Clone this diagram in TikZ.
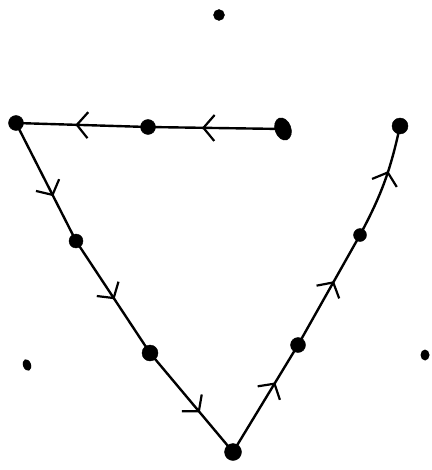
\documentclass[tikz,border=0pt]{standalone}
\usetikzlibrary{arrows.meta,decorations.markings,shapes.geometric}
\tikzset{
  dot/.style={circle,fill=black,draw=black,inner sep=0pt,minimum size=#1},
  dot/.default=12pt,
  edge/.style={line width=2.4pt,black,postaction={decorate},
    decoration={markings,mark=at position #1 with {\arrow{Straight Barb[length=11pt,width=26pt,line width=2.2pt]}}}},
}
\begin{document}
\begin{tikzpicture}[x=1pt,y=-1pt]
\useasboundingbox (0,0) rectangle (431,470);
% nodes
\node[dot=11pt] (top) at (219,15) {};
\node[dot=15pt] (tl) at (16,123) {};
\node[dot=15pt] (m) at (148,127) {};
\node[ellipse,fill=black,draw=black,inner sep=0pt,minimum width=16pt,minimum height=23pt,rotate=20] (r) at (283,129) {};
\node[dot=16pt] (tr) at (400,126) {};
\node[dot=14pt] (l1) at (76,241) {};
\node[dot=16pt] (l2) at (150,353) {};
\node[dot=17pt] (b) at (233,452) {};
\node[dot=15pt] (r1) at (298,345) {};
\node[dot=13pt] (r2) at (360,235) {};
\node[ellipse,fill=black,inner sep=0pt,minimum width=8pt,minimum height=12pt,rotate=20] (iso1) at (27,365) {};
\node[ellipse,fill=black,inner sep=0pt,minimum width=9pt,minimum height=11pt] (iso2) at (425,355) {};
% connectors
\draw[edge=0.6] (r.center) -- (m.center);
\draw[edge=0.55] (m.center) -- (tl.center);
\draw[edge=0.62] (tl.center) -- (l1.center);
\draw[edge=0.52] (l1.center) -- (l2.center);
\draw[edge=0.6] (l2.center) -- (b.center);
\draw[edge=0.65] (b.center) -- (r1.center);
\draw[edge=0.58] (r1.center) -- (r2.center);
\draw[edge=0.6] (r2.center) to[bend right=8] (tr.center);
\end{tikzpicture}
\end{document}
